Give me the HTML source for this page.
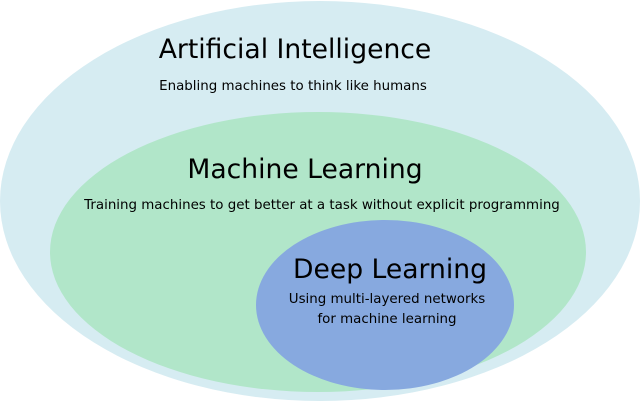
<!DOCTYPE html>
<html><head><style>
html,body{margin:0;padding:0;background:#fff;}
svg{display:block;}
text{font-family:"DejaVu Sans","Liberation Sans",sans-serif;fill:#000;}
</style></head><body>
<svg width="640" height="404" viewBox="0 0 640 404">
<ellipse cx="320" cy="201" rx="320" ry="200" fill="#d6ecf2"/>
<ellipse cx="318" cy="252" rx="268" ry="140" fill="#b1e6c9"/>
<ellipse cx="385" cy="305" rx="129" ry="85" fill="#87a9df"/>
<text x="295" y="58" font-size="26.6" text-anchor="middle">Artificial Intelligence</text>
<text x="293" y="90" font-size="13.4" text-anchor="middle">Enabling machines to think like humans</text>
<text x="305" y="178" font-size="26.6" text-anchor="middle">Machine Learning</text>
<text x="322" y="209" font-size="13.4" text-anchor="middle">Training machines to get better at a task without explicit programming</text>
<text x="390" y="278" font-size="26.6" text-anchor="middle">Deep Learning</text>
<text x="387" y="303" font-size="13.4" text-anchor="middle">Using multi-layered networks</text>
<text x="387" y="323" font-size="13.4" text-anchor="middle">for machine learning</text>
</svg>
</body></html>
